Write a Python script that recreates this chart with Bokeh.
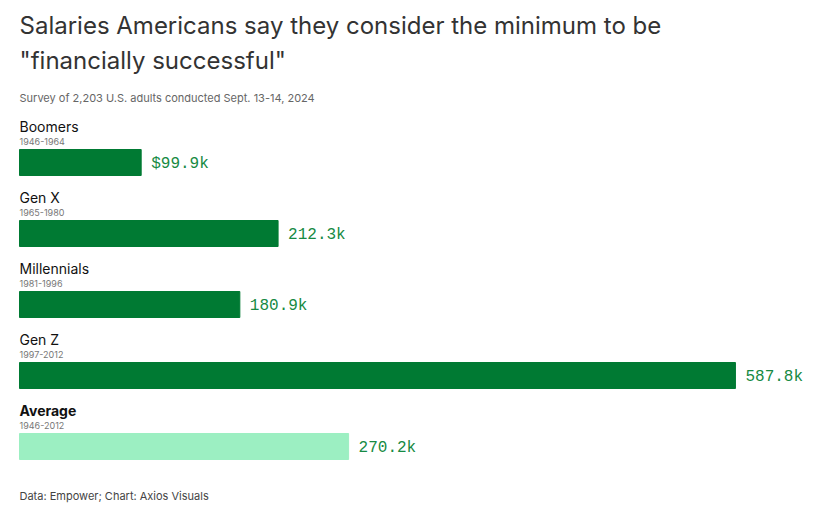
from bokeh.plotting import figure
from bokeh.models import Range1d, Label
from bokeh.embed import file_html
from bokeh.resources import INLINE

categories = ["Boomers", "Gen X", "Millennials", "Gen Z", "Average"]
years = ["1946-1964", "1965-1980", "1981-1996", "1997-2012", "1946-2012"]
values = [99.9, 212.3, 180.9, 587.8, 270.2]
labels = ["$99.9k", "212.3k", "180.9k", "587.8k", "270.2k"]
colors = ["#007a33", "#007a33", "#007a33", "#007a33", "#9cefc2"]

W, H = 812, 514
scale = 1.218
x0 = 19
p = figure(width=W, height=H, output_backend="svg", toolbar_location=None,
           x_range=Range1d(-x0/scale, (W-x0)/scale), y_range=Range1d(H, 0),
           min_border=0, outline_line_color=None)
p.axis.visible = False
p.grid.visible = False

tops = [149 + 71*i for i in range(len(values))]
bh = 26
p.hbar(y=[t + bh/2 for t in tops], left=0, right=values, height=bh, color=colors)
p.text(x=[v + 10/scale for v in values], y=[t + bh/2 + 1 for t in tops], text=labels,
       text_font={"value": "Liberation Mono"}, text_font_size="16px", text_color="#168a43",
       text_baseline="middle")

def lab(x, y, t, size, color="#222222", style="normal", font="Inter"):
    p.add_layout(Label(x=x, y=H - y, x_units="screen", y_units="screen", text=t,
                       text_font=font, text_font_size=size, text_color=color,
                       text_font_style=style, text_baseline="middle"))

lab(x0, 25, "Salaries Americans say they consider the minimum to be", "24px", "#333333")
lab(x0, 60, "\"financially successful\"", "24px", "#333333")
lab(x0, 97, "Survey of 2,203 U.S. adults conducted Sept. 13-14, 2024", "11px", "#666666")
for i, (c, yr) in enumerate(zip(categories, years)):
    lab(x0, tops[i] - 23, c, "14px", "#111111", "bold" if c == "Average" else "normal")
    lab(x0, tops[i] - 8, yr, "9px", "#777777")
lab(x0, 495, "Data: Empower; Chart: Axios Visuals", "11px", "#444444")

open("out.html", "w").write(file_html(p, INLINE))
